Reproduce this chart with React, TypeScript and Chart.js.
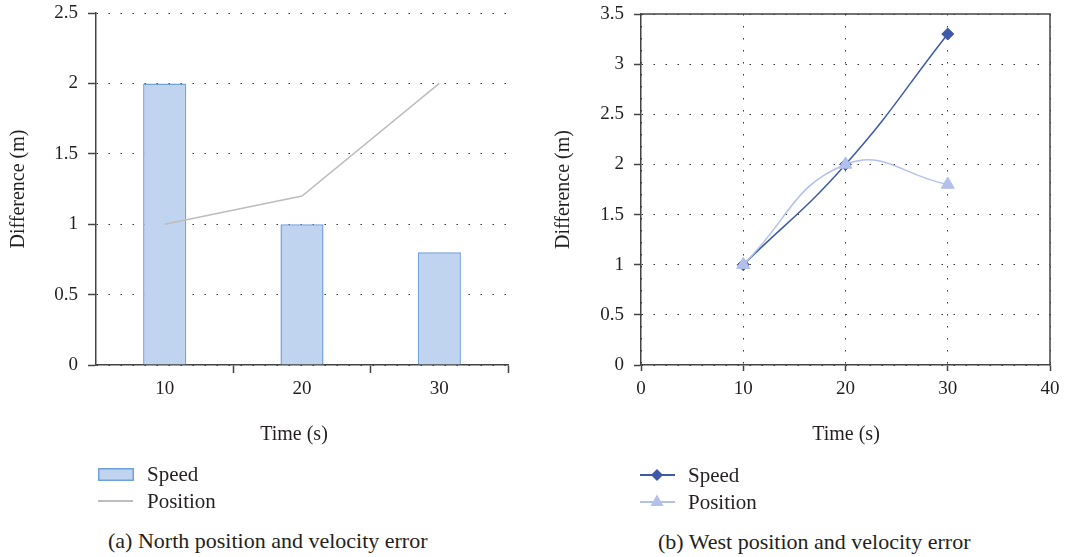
import React, { useEffect, useRef } from 'react';
import { Chart, registerables } from 'chart.js';

Chart.register(...registerables);

// ---- data ----
const northCategories = ['10', '20', '30'];
const northSpeed = [2, 1, 0.8];
const northPosition = [1, 1.2, 2];

const westTime = [10, 20, 30];
const westSpeed = [1, 2, 3.3];
const westPosition = [1, 2, 1.8];

const FONT = "'Liberation Serif', 'Times New Roman', serif";
const TEXT = '#231f20';
const AXIS = '#444';
const DOT = '#333';

const BAR_FILL = '#c0d3ef';
const BAR_EDGE = '#6fa0dc';
const GRAY_LINE = '#bdbdbd';
const DARK_BLUE = '#3e59a8';
const LIGHT_BLUE = '#b4c0ec';

const plainTick = (v: any) => String(Math.round(Number(v) * 100) / 100);

const framePlugin = {
  id: 'frame',
  beforeDatasetsDraw(chart: any) {
    const { ctx, chartArea } = chart;
    ctx.save();
    ctx.strokeStyle = AXIS;
    ctx.lineWidth = 1.5;
    ctx.beginPath();
    ctx.moveTo(chartArea.left, chartArea.top);
    ctx.lineTo(chartArea.right, chartArea.top);
    ctx.lineTo(chartArea.right, chartArea.bottom);
    ctx.stroke();
    ctx.restore();
  },
};

const fitY = (w: number) => (s: any) => {
  s.width = w;
  s.paddingTop = 0;
  s.paddingBottom = 0;
};

function NorthChart() {
  const ref = useRef<HTMLCanvasElement>(null);
  useEffect(() => {
    if (!ref.current) return;
    const chart = new Chart(ref.current, {
      type: 'bar',
      data: {
        labels: northCategories,
        datasets: [
          {
            type: 'bar',
            label: 'Speed',
            data: northSpeed,
            backgroundColor: BAR_FILL,
            borderColor: BAR_EDGE,
            borderWidth: 1.5,
            barPercentage: 0.314,
            categoryPercentage: 1,
            order: 1,
          } as any,
          {
            type: 'line',
            label: 'Position',
            data: northPosition,
            borderColor: GRAY_LINE,
            borderWidth: 1.5,
            pointRadius: 0,
            tension: 0,
            order: 0,
          } as any,
        ],
      },
      options: {
        animation: false,
        responsive: false,
        devicePixelRatio: 1,
        layout: { padding: { left: 0, right: 32, top: 13, bottom: 0 } },
        plugins: { legend: { display: false }, tooltip: { enabled: false } },
        scales: {
          x: {
            offset: true,
            grid: {
              offset: true,
              drawOnChartArea: false,
              drawTicks: true,
              tickLength: 8,
              tickWidth: 1.5,
              tickColor: (c: any) => (c.index === 0 ? 'rgba(0,0,0,0)' : AXIS),
            },
            border: { color: AXIS, width: 1.5 },
            ticks: { font: { family: FONT, size: 19 }, color: TEXT, padding: 5 },
            afterFit: (s: any) => {
              s.height = 82;
            },
          },
          y: {
            min: 0,
            max: 2.5,
            ticks: {
              stepSize: 0.5,
              font: { family: FONT, size: 19 },
              color: TEXT,
              padding: 10,
              callback: plainTick,
            },
            grid: {
              color: DOT,
              lineWidth: 1,
              tickLength: 8,
              tickColor: AXIS,
              tickWidth: 1.5,
              tickBorderDash: [],
            },
            border: { color: AXIS, width: 1.5, dash: [1.5, 10.5], dashOffset: 0 },
            title: {
              display: true,
              text: 'Difference (m)',
              font: { family: FONT, size: 20 },
              color: TEXT,
              padding: { top: 7, bottom: 0 },
            },
            afterFit: fitY(96),
          },
        },
      } as any,
    });
    return () => chart.destroy();
  }, []);
  return <canvas ref={ref} width={540} height={447} style={{ position: 'absolute', left: 0, top: 0 }} />;
}

function WestChart() {
  const ref = useRef<HTMLCanvasElement>(null);
  useEffect(() => {
    if (!ref.current) return;
    const chart = new Chart(ref.current, {
      type: 'line',
      data: {
        datasets: [
          {
            label: 'Speed',
            data: westTime.map((t, i) => ({ x: t, y: westSpeed[i] })),
            borderColor: DARK_BLUE,
            backgroundColor: DARK_BLUE,
            borderWidth: 1.5,
            pointStyle: 'rectRot',
            pointRadius: 6,
            pointBorderWidth: 1,
            tension: 0.45,
            order: 1,
          },
          {
            label: 'Position',
            data: westTime.map((t, i) => ({ x: t, y: westPosition[i] })),
            borderColor: LIGHT_BLUE,
            backgroundColor: LIGHT_BLUE,
            borderWidth: 1.5,
            pointStyle: 'triangle',
            pointRadius: 7.5,
            pointBorderWidth: 1,
            tension: 0.45,
            order: 0,
          },
        ],
      },
      options: {
        animation: false,
        responsive: false,
        devicePixelRatio: 1,
        layout: { padding: { left: 0, right: 33, top: 14, bottom: 0 } },
        plugins: { legend: { display: false }, tooltip: { enabled: false } },
        scales: {
          x: {
            type: 'linear',
            min: 0,
            max: 40,
            ticks: { stepSize: 10, font: { family: FONT, size: 19 }, color: TEXT, padding: 7, callback: plainTick },
            grid: {
              color: DOT,
              lineWidth: 1,
              tickLength: 6,
              tickColor: AXIS,
              tickWidth: 1.5,
              tickBorderDash: [],
            },
            border: { color: AXIS, width: 1.5, dash: [1.5, 10.5], dashOffset: 0 },
            afterFit: (s: any) => {
              s.height = 82;
            },
          },
          y: {
            min: 0,
            max: 3.5,
            ticks: {
              stepSize: 0.5,
              font: { family: FONT, size: 19 },
              color: TEXT,
              padding: 10,
              callback: plainTick,
            },
            grid: {
              color: DOT,
              lineWidth: 1,
              tickLength: 7,
              tickColor: AXIS,
              tickWidth: 1.5,
              tickBorderDash: [],
            },
            border: { color: AXIS, width: 1.5, dash: [1.5, 10.5], dashOffset: 0 },
            title: {
              display: true,
              text: 'Difference (m)',
              font: { family: FONT, size: 20 },
              color: TEXT,
              padding: { top: 12, bottom: 0 },
            },
            afterFit: fitY(101),
          },
        },
      } as any,
      plugins: [framePlugin],
    });
    return () => chart.destroy();
  }, []);
  return <canvas ref={ref} width={543} height={447} style={{ position: 'absolute', left: 540, top: 0 }} />;
}

const textStyle = (left: number, centerY: number, size: number, center = false): React.CSSProperties => ({
  position: 'absolute',
  left,
  top: centerY - 13,
  height: 26,
  lineHeight: '26px',
  fontSize: size,
  fontFamily: FONT,
  color: TEXT,
  whiteSpace: 'nowrap',
  transform: center ? 'translateX(-50%)' : undefined,
});

export default function App() {
  return (
    <div
      style={{
        position: 'absolute',
        left: 0,
        top: 0,
        width: 1083,
        height: 557,
        background: '#fff',
        overflow: 'hidden',
      }}
    >
      <NorthChart />
      <WestChart />

      <div style={textStyle(294, 433, 20, true)}>Time (s)</div>
      <div style={textStyle(846, 433, 20, true)}>Time (s)</div>

      {/* left legend */}
      <svg width={40} height={50} style={{ position: 'absolute', left: 95, top: 462 }}>
        <rect x={3.75} y={6.75} width={34.5} height={11.5} fill={BAR_FILL} stroke={BAR_EDGE} strokeWidth={1.5} />
        <line x1={3} y1={39} x2={38} y2={39} stroke={GRAY_LINE} strokeWidth={2} />
      </svg>
      <div style={textStyle(147, 474, 21)}>Speed</div>
      <div style={textStyle(147, 501, 21)}>Position</div>

      {/* right legend */}
      <svg width={40} height={50} style={{ position: 'absolute', left: 638, top: 462 }}>
        <line x1={2} y1={13} x2={37} y2={13} stroke={DARK_BLUE} strokeWidth={2} />
        <polygon points="19,7 25,13 19,19 13,13" fill={DARK_BLUE} />
        <line x1={2} y1={40} x2={37} y2={40} stroke={LIGHT_BLUE} strokeWidth={2} />
        <polygon points="19,32.5 25.5,44 12.5,44" fill={LIGHT_BLUE} />
      </svg>
      <div style={textStyle(688, 475, 21)}>Speed</div>
      <div style={textStyle(688, 502, 21)}>Position</div>

      <div style={textStyle(108, 541, 22)}>(a) North position and velocity error</div>
      <div style={textStyle(658, 542, 22)}>(b) West position and velocity error</div>
    </div>
  );
}
